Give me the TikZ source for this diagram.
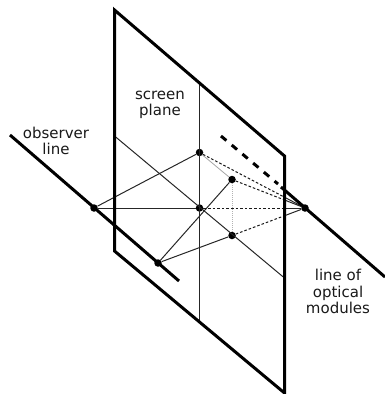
\documentclass[tikz,border=0pt]{standalone}
\usepackage{fontspec}
\setmainfont{DejaVu Sans}
\usetikzlibrary{calc}
\tikzset{
  x=1pt,y=-1pt,
  heavy/.style={line width=3pt,line cap=butt,line join=miter,color=black},
  thin line/.style={line width=1pt,color=black!85},
  ray/.style={line width=1pt,color=black!85},
  dash ray/.style={line width=1pt,dash pattern=on 2.6pt off 2pt,color=black!90},
  ghost/.style={line width=1pt,dash pattern=on 1pt off 1pt,color=black!30},
  ghost solid/.style={line width=.8pt,color=black!35},
  big dash/.style={line width=3pt,dash pattern=on 7pt off 7pt},
  pt/.style={circle,fill=black,inner sep=0pt,minimum size=7.5pt},
  lab/.style={align=center,font=\fontsize{15}{16.4}\selectfont,text=black!90,inner sep=0pt}
}
\begin{document}
\begin{tikzpicture}
\useasboundingbox (0,0) rectangle (385,394);
% plane
\coordinate (ptl) at (114.5,10);
\coordinate (ptr) at (284.5,156);
\coordinate (pbr) at (284.5,393);
\coordinate (pbl) at (114.5,251);
% points
\node[pt] (top) at (199.5,152.5) {};
\node[pt] (ur) at (232,179.5) {};
\node[pt] (cen) at (199.5,208) {};
\node[pt] (lr) at (232,235.5) {};
\node[pt] (obs) at (94,208) {};
\node[pt] (low) at (158,263) {};
\node[pt] (mod) at (305,208) {};
% guide lines on the screen
\coordinate (vt) at (199.5,83);
\coordinate (vb) at (199.5,322);
\coordinate (dl) at (114.5,136);
\coordinate (dr) at (284.5,278);
\draw[thin line] (vt) -- (vb);
\draw[thin line] (dl) -- (dr);
% rays, observer side
\draw[ray] (obs) -- (top);
\draw[ray] (obs) -- (cen);
\draw[ray] (low) -- (ur);
\draw[ray] (low) -- (lr);
% hidden links
\draw[ghost solid] (top) -- (ur);
\draw[ghost] (ur) -- (lr);
% rays, module side
\coordinate (xa) at ($(top)!0.806!(mod)$);
\coordinate (xb) at ($(ur)!0.719!(mod)$);
\coordinate (xc) at ($(cen)!0.806!(mod)$);
\coordinate (xd) at ($(lr)!0.719!(mod)$);
\draw[dash ray] (top) -- (xa);
\draw[dash ray] (ur) -- (xb);
\draw[dash ray] (cen) -- (xc);
\draw[dash ray] (lr) -- (xd);
\draw[ray] (xa) -- (mod);
\draw[ray] (xb) -- (mod);
\draw[ray] (xc) -- (mod);
\draw[ray] (xd) -- (mod);
% plane outline
\draw[heavy] (ptl) -- (ptr) -- (pbr) -- (pbl) -- cycle;
% observer line
\coordinate (oa) at (10,135);
\coordinate (ob) at (179,281);
\draw[heavy] (oa) -- (ob);
% module line
\coordinate (ma) at (221,136);
\coordinate (mb) at (278,184);
\coordinate (mc) at (281,187);
\coordinate (md) at (385,277);
\draw[big dash] (ma) -- (mb);
\draw[heavy] (mc) -- (md);
% labels
\node[lab] (l1) at (56,141) {observer\\line};
\node[lab] (l2) at (160,105) {screen\\plane};
\node[lab] (l3) at (338,291.5) {line of\\optical\\modules};
\end{tikzpicture}
\end{document}
